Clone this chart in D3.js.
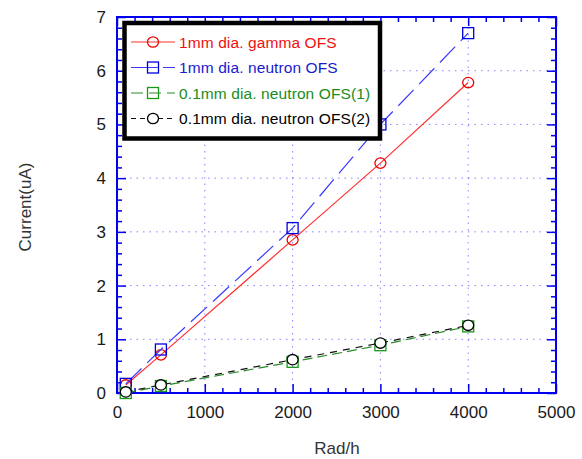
<!DOCTYPE html>
<html>
<head>
<meta charset="utf-8">
<script src="https://cdn.jsdelivr.net/npm/d3@7"></script>
<style>
  body { margin: 0; background: #fff; }
  svg { display: block; font-family: "Liberation Sans", Arial, sans-serif; }
</style>
</head>
<body>
<div id="chart"></div>
<script>
// data
const radValues = [100, 500, 2000, 3000, 4000];
const gamma1mm = [0.15, 0.71, 2.85, 4.28, 5.78];
const neutron1mm = [0.17, 0.81, 3.07, 5.0, 6.7];
const neutron01mm1 = [0.0, 0.13, 0.58, 0.89, 1.24];
const neutron01mm2 = [0.02, 0.15, 0.62, 0.93, 1.26];
const xTicks = [0, 1000, 2000, 3000, 4000, 5000];
const yTicks = [0, 1, 2, 3, 4, 5, 6, 7];
const seriesNames = ['1mm dia. gamma OFS', '1mm dia. neutron OFS', '0.1mm dia. neutron OFS(1)', '0.1mm dia. neutron OFS(2)'];

const width = 582, height = 459;
const margin = { top: 17, right: 26, bottom: 66, left: 117 };

// per-series look
const styles = [
    { values: gamma1mm, line: '#ff3030', marker: 'circle', stroke: '#ee0000', dash: null, legendDash: null, text: '#ee1111', fill: 'none' },
    { values: neutron1mm, line: '#3a3aff', marker: 'square', stroke: '#0000dd', dash: '22,8', legendDash: '28,4', text: '#1a1ad0', fill: 'none' },
    { values: neutron01mm1, line: '#2a8a2a', marker: 'square', stroke: '#1a9a1a', dash: '10,5', legendDash: '12,6', text: '#1a8c1a', fill: 'none' },
    { values: neutron01mm2, line: '#111', marker: 'circle', stroke: '#000', dash: '7,6', legendDash: '5,4', text: '#000', fill: '#fff' }
];

const svg = d3.select('#chart').append('svg')
    .attr('width', width)
    .attr('height', height);

const x = d3.scaleLinear().domain([0, 5000]).range([margin.left, width - margin.right]);
const y = d3.scaleLinear().domain([0, 7]).range([height - margin.bottom, margin.top]);

const axisColor = '#0000ee';
const minorX = d3.range(0, 5001, 200).filter(v => v % 1000 !== 0);
const minorY = d3.range(0, 7.01, 0.2).map(v => +v.toFixed(1)).filter(v => Math.abs(v - Math.round(v)) > 0.01);

// grid (dotted)
const grid = svg.append('g')
    .attr('stroke', '#3030ff')
    .attr('stroke-opacity', 0.6)
    .attr('stroke-width', 1)
    .attr('stroke-dasharray', '1.5,5');

grid.selectAll('.vg').data(xTicks.slice(1, -1)).join('line')
    .attr('x1', d => x(d)).attr('x2', d => x(d))
    .attr('y1', y(0)).attr('y2', y(7));

grid.selectAll('.hg').data(yTicks.slice(1, -1)).join('line')
    .attr('x1', x(0)).attr('x2', x(5000))
    .attr('y1', d => y(d)).attr('y2', d => y(d));

// axes: ticks point inward on all four sides
function styleAxis(g) {
    g.select('.domain').remove();
    g.selectAll('.tick line').attr('stroke', axisColor).attr('stroke-width', 1.5);
    g.selectAll('.tick text')
        .attr('fill', '#1a1a1a')
        .attr('font-size', 17)
        .attr('font-family', '"Liberation Sans", Arial, sans-serif');
}

svg.append('g')
    .attr('transform', `translate(0,${y(0)})`)
    .call(d3.axisBottom(x).tickValues(xTicks).tickSize(-9).tickPadding(13).tickFormat(d3.format('d')))
    .call(styleAxis);
svg.append('g')
    .attr('transform', `translate(0,${y(0)})`)
    .call(d3.axisBottom(x).tickValues(minorX).tickSize(-5).tickFormat(''))
    .call(styleAxis);
svg.append('g')
    .attr('transform', `translate(0,${y(7)})`)
    .call(d3.axisTop(x).tickValues(xTicks).tickSize(-9).tickFormat(''))
    .call(styleAxis);
svg.append('g')
    .attr('transform', `translate(0,${y(7)})`)
    .call(d3.axisTop(x).tickValues(minorX).tickSize(-5).tickFormat(''))
    .call(styleAxis);

svg.append('g')
    .attr('transform', `translate(${x(0)},0)`)
    .call(d3.axisLeft(y).tickValues(yTicks).tickSize(-9).tickPadding(11).tickFormat(d3.format('d')))
    .call(styleAxis);
svg.append('g')
    .attr('transform', `translate(${x(0)},0)`)
    .call(d3.axisLeft(y).tickValues(minorY).tickSize(-5).tickFormat(''))
    .call(styleAxis);
svg.append('g')
    .attr('transform', `translate(${x(5000)},0)`)
    .call(d3.axisRight(y).tickValues(yTicks).tickSize(-9).tickFormat(''))
    .call(styleAxis);
svg.append('g')
    .attr('transform', `translate(${x(5000)},0)`)
    .call(d3.axisRight(y).tickValues(minorY).tickSize(-5).tickFormat(''))
    .call(styleAxis);

// frame
svg.append('rect')
    .attr('x', x(0)).attr('y', y(7))
    .attr('width', x(5000) - x(0)).attr('height', y(0) - y(7))
    .attr('fill', 'none')
    .attr('stroke', axisColor)
    .attr('stroke-width', 2);

// axis titles
svg.append('text')
    .attr('x', (x(0) + x(5000)) / 2 + 0.5)
    .attr('y', 454)
    .attr('text-anchor', 'middle')
    .attr('font-size', 17)
    .attr('fill', '#333')
    .text('Rad/h');

svg.append('text')
    .attr('transform', 'translate(31,207) rotate(-90)')
    .attr('text-anchor', 'middle')
    .attr('font-size', 17)
    .attr('fill', '#333')
    .text('Current(uA)');

// series
const line = d3.line()
    .x((d, i) => x(radValues[i]))
    .y(d => y(d));

function drawMarker(g, type, cx, cy, s) {
    if (type === 'circle') {
        g.append('ellipse')
            .attr('cx', cx).attr('cy', cy)
            .attr('rx', 5.5).attr('ry', 5.2)
            .attr('fill', s.fill)
            .attr('stroke', s.stroke)
            .attr('stroke-width', 1.3);
    } else {
        g.append('rect')
            .attr('x', cx - 5.5).attr('y', cy - 5.5)
            .attr('width', 11).attr('height', 11)
            .attr('fill', s.fill)
            .attr('stroke', s.stroke)
            .attr('stroke-width', 1.3);
    }
}

styles.forEach(s => {
    const g = svg.append('g');
    g.append('path')
        .datum(s.values)
        .attr('d', line)
        .attr('fill', 'none')
        .attr('stroke', s.line)
        .attr('stroke-width', 1.2)
        .attr('stroke-dasharray', s.dash);
    s.values.forEach((v, i) => drawMarker(g, s.marker, x(radValues[i]), y(v), s));
});

// legend
const legend = svg.append('g');
legend.append('rect')
    .attr('x', 124.5).attr('y', 23)
    .attr('width', 255.5).attr('height', 115.5)
    .attr('fill', '#fff')
    .attr('stroke', '#000')
    .attr('stroke-width', 4.5);

styles.forEach((s, i) => {
    const ly = 42 + i * 25.5;
    const row = legend.append('g');
    row.append('line')
        .attr('x1', 131).attr('x2', 175)
        .attr('y1', ly).attr('y2', ly)
        .attr('stroke', s.line)
        .attr('stroke-width', 1.2)
        .attr('stroke-dasharray', s.legendDash);
    drawMarker(row, s.marker, 153, ly, s);
    row.append('text')
        .attr('x', 179)
        .attr('y', ly + 5.5)
        .attr('font-size', 15.5)
        .attr('letter-spacing', 0.1)
        .attr('fill', s.text)
        .text(seriesNames[i]);
});
</script>
</body>
</html>
